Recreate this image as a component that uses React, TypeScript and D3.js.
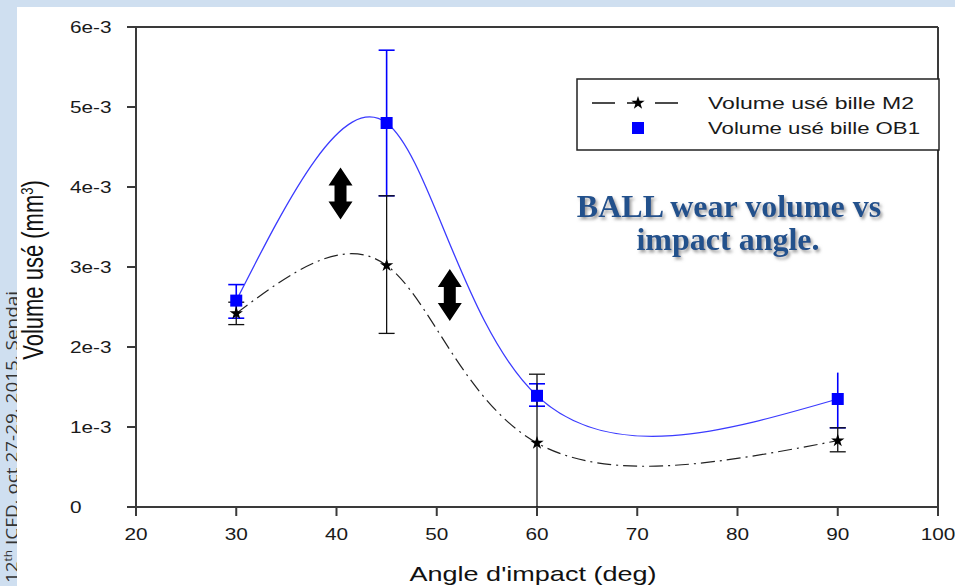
import React from 'react';
import * as d3 from 'd3';

const angles = [30, 45, 60, 90];
const m2Values = [2.42e-3, 3.02e-3, 0.8e-3, 0.83e-3];
const m2Low = [2.28e-3, 2.17e-3, 0, 0.69e-3];
const m2High = [2.56e-3, 3.89e-3, 1.66e-3, 0.99e-3];
const m2LowCap = [true, true, false, true];
const ob1Values = [2.58e-3, 4.8e-3, 1.39e-3, 1.35e-3];
const ob1Low = [2.36e-3, 3.89e-3, 1.26e-3, 0.99e-3];
const ob1High = [2.78e-3, 5.71e-3, 1.54e-3, 1.68e-3];
const ob1HighCap = [true, true, true, false];

const xTicks = [20, 30, 40, 50, 60, 70, 80, 90, 100];
const yTicks = [0, 1e-3, 2e-3, 3e-3, 4e-3, 5e-3, 6e-3];
const yTickLabels = ['0', '1e-3', '2e-3', '3e-3', '4e-3', '5e-3', '6e-3'];

const seriesNames = ['Volume usé bille M2', 'Volume usé bille OB1'];
const arrowPositions = [
  { x: 40.4, y: 3.92e-3 },
  { x: 51.3, y: 2.65e-3 },
];

const W = 955;
const H = 586;
const X0 = 136, X1 = 938, Y0 = 507, Y1 = 27;
const AXIS = '#3a3a3a';
const BAND = '#cfdff0';

export default function App() {
  const x = d3.scaleLinear().domain([20, 100]).range([X0, X1]);
  const y = d3.scaleLinear().domain([0, 6e-3]).range([Y0, Y1]);
  const line = d3
    .line<number>()
    .x((_, i) => x(angles[i]))
    .curve(d3.curveNatural);
  const m2Path = line.y((v) => y(v))(m2Values) || '';
  const ob1Path = line.y((v) => y(v))(ob1Values) || '';
  const star = d3.symbol(d3.symbolStar, 55)() || '';
  const cap = 8;

  const arrow = (cx: number, cy: number) => {
    const h = 26, hw = 12, sw = 6, hl = 18;
    return `M${cx},${cy - h} L${cx + hw},${cy - h + hl} L${cx + sw},${cy - h + hl} L${cx + sw},${cy + h - hl} L${cx + hw},${cy + h - hl} L${cx},${cy + h} L${cx - hw},${cy + h - hl} L${cx - sw},${cy + h - hl} L${cx - sw},${cy - h + hl} L${cx - hw},${cy - h + hl} Z`;
  };

  return (
    <svg width={W} height={H} style={{ position: 'absolute', left: 0, top: 0 }}
      fontFamily="'Liberation Sans', Arial, sans-serif">
      <defs>
        <filter id="tshadow" x="-10%" y="-20%" width="130%" height="160%">
          <feDropShadow dx="2" dy="2.5" stdDeviation="1.6" floodColor="#777" floodOpacity="0.7" />
        </filter>
        <clipPath id="bandclip">
          <rect x={0} y={0} width={17} height={H} />
        </clipPath>
      </defs>
      <rect x={0} y={0} width={W} height={H} fill="#ffffff" />

      {/* axes frame */}
      <line x1={X0} x2={X0} y1={Y1} y2={Y0 + 9} stroke={AXIS} strokeWidth={2} />
      <line x1={X0 - 9} x2={X1} y1={Y0} y2={Y0} stroke={AXIS} strokeWidth={2} />
      <line x1={X0 - 9} x2={X1} y1={Y1} y2={Y1} stroke={AXIS} strokeWidth={2} />
      <line x1={X1} x2={X1} y1={Y1} y2={Y0 + 9} stroke={AXIS} strokeWidth={2} />

      {yTicks.map((t, i) => (
        <g key={'yt' + i}>
          <line x1={X0 - 9} x2={X0} y1={y(t)} y2={y(t)} stroke={AXIS} strokeWidth={2} />
          <text transform={`translate(70,${y(t) + 6}) scale(1.3,1)`} fontSize={16} fill="#1a1a1a">
            {yTickLabels[i]}
          </text>
        </g>
      ))}
      {xTicks.map((t, i) => (
        <g key={'xt' + i}>
          <line x1={x(t)} x2={x(t)} y1={Y0} y2={Y0 + 9} stroke={AXIS} strokeWidth={2} />
          <text transform={`translate(${x(t)},${Y0 + 33}) scale(1.3,1)`} fontSize={16} fill="#1a1a1a" textAnchor="middle">
            {t}
          </text>
        </g>
      ))}

      <text x={533} y={581} fontSize={21} textAnchor="middle" fill="#111" textLength={247} lengthAdjust="spacingAndGlyphs">
        Angle d'impact (deg)
      </text>
      <text transform={`translate(43,270) scale(1.3,1) rotate(-90)`} fontSize={22} textAnchor="middle" fill="#111">
        Volume usé (mm<tspan dy={-8} fontSize={13}>3</tspan><tspan dy={8}>)</tspan>
      </text>

      {/* error bars OB1 */}
      {angles.map((a, i) => (
        <g key={'eb' + i} stroke="#0000ff" strokeWidth={1.6}>
          <line x1={x(a)} x2={x(a)} y1={y(ob1Low[i])} y2={y(ob1High[i])} />
          <line x1={x(a) - cap} x2={x(a) + cap} y1={y(ob1Low[i])} y2={y(ob1Low[i])} />
          {ob1HighCap[i] && <line x1={x(a) - cap} x2={x(a) + cap} y1={y(ob1High[i])} y2={y(ob1High[i])} />}
        </g>
      ))}
      {/* error bars M2 */}
      {angles.map((a, i) => (
        <g key={'em' + i} stroke="#111" strokeWidth={1.3}>
          <line x1={x(a)} x2={x(a)} y1={y(m2Low[i])} y2={y(m2High[i])} />
          {m2LowCap[i] && <line x1={x(a) - cap} x2={x(a) + cap} y1={y(m2Low[i])} y2={y(m2Low[i])} />}
          <line x1={x(a) - cap} x2={x(a) + cap} y1={y(m2High[i])} y2={y(m2High[i])} />
        </g>
      ))}

      <path d={ob1Path} fill="none" stroke="#3b3bff" strokeWidth={1.3} />
      <path d={m2Path} fill="none" stroke="#222" strokeWidth={1.2} strokeDasharray="14,5,2,5" />

      {angles.map((a, i) => (
        <rect key={'sq' + i} x={x(a) - 6} y={y(ob1Values[i]) - 6} width={12} height={12} fill="#0000ff" />
      ))}
      {angles.map((a, i) => (
        <path key={'st' + i} d={star} transform={`translate(${x(a)},${y(m2Values[i])})`} fill="#000" />
      ))}

      {arrowPositions.map((p, i) => (
        <path key={'ar' + i} d={arrow(x(p.x), y(p.y))} fill="#000" />
      ))}

      {/* legend */}
      <rect x={577} y={79} width={362} height={71} fill="#fff" stroke="#222" strokeWidth={1.5} />
      <line x1={592} x2={678} y1={103} y2={103} stroke="#111" strokeWidth={1.3} strokeDasharray="23,12,10,18,23" />
      <path d={star} transform="translate(638,103)" fill="#000" />
      <rect x={632} y={122} width={12} height={12} fill="#0000ff" />
      <text x={708} y={109} fontSize={16} fill="#1a1a1a" textLength={206} lengthAdjust="spacingAndGlyphs">
        {seriesNames[0]}
      </text>
      <text x={708} y={134} fontSize={16} fill="#1a1a1a" textLength={212} lengthAdjust="spacingAndGlyphs">
        {seriesNames[1]}
      </text>

      {/* title */}
      <g filter="url(#tshadow)" fontFamily="'Liberation Serif', 'Times New Roman', serif" fontWeight="bold" fontSize={32} fill="#24518c" textAnchor="middle">
        <text x={729} y={217}>BALL wear volume vs</text>
        <text x={728} y={250}>impact angle.</text>
      </g>

      {/* slide band */}
      <rect x={0} y={0} width={W} height={7} fill={BAND} />
      <rect x={0} y={0} width={17} height={H} fill={BAND} />
      <g clipPath="url(#bandclip)">
        <text transform="translate(18,583) rotate(-90)" fontFamily="'Open Sans', 'Noto Sans', sans-serif" fontSize={16} fill="#333" textLength={292} lengthAdjust="spacingAndGlyphs">
          12<tspan dy={-6} fontSize={10}>th</tspan><tspan dy={6}> ICFD,  oct 27-29, 2015, Sendai</tspan>
        </text>
      </g>
    </svg>
  );
}
